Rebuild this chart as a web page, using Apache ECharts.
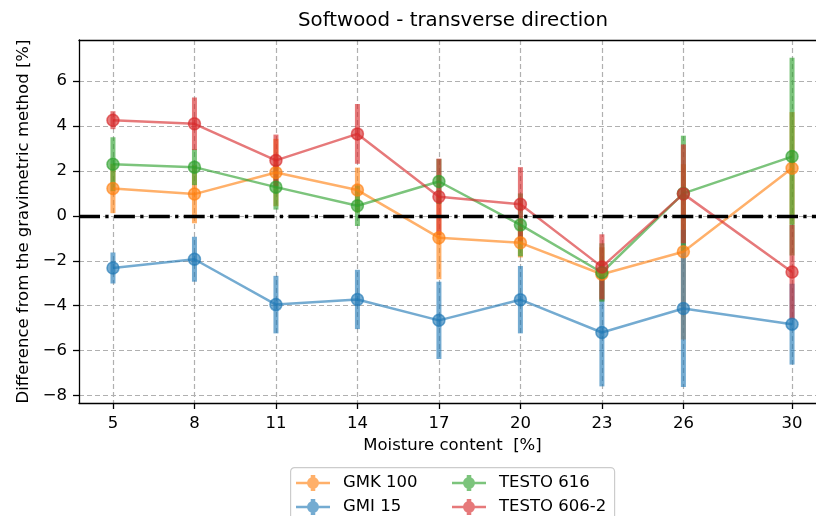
<!DOCTYPE html>
<html><head><meta charset="utf-8">
<script src="https://cdn.jsdelivr.net/npm/echarts@6/dist/echarts.min.js"></script>
<style>html,body{margin:0;padding:0;background:#fff}#c{width:816px;height:516px}</style>
</head><body><div id="c"></div>
<script>
// ---- data ----
const moisture = [5, 8, 11, 14, 17, 20, 23, 26, 30];
const xTicks = [5, 8, 11, 14, 17, 20, 23, 26, 30];
const yTicks = [-8, -6, -4, -2, 0, 2, 4, 6];
const seriesNames = ['GMK 100', 'GMI 15', 'TESTO 616', 'TESTO 606-2'];
const gmk100 = [1.22, 0.97, 1.93, 1.15, -0.97, -1.20, -2.60, -1.60, 2.12];
const gmk100Err = [1.10, 1.30, 1.50, 1.00, 1.85, 0.65, 1.20, 3.90, 2.50];
const gmi15 = [-2.32, -1.93, -3.95, -3.72, -4.65, -3.73, -5.19, -4.12, -4.82];
const gmi15Err = [0.69, 1.00, 1.28, 1.32, 1.72, 1.50, 2.40, 3.50, 1.80];
const testo616 = [2.30, 2.17, 1.28, 0.45, 1.53, -0.40, -2.52, 1.00, 2.64];
const testo616Err = [1.20, 0.80, 1.00, 0.90, 1.00, 1.40, 1.30, 2.57, 4.40];
const testo6062 = [4.26, 4.10, 2.47, 3.65, 0.85, 0.52, -2.27, 0.98, -2.50];
const testo6062Err = [0.40, 1.17, 1.15, 1.33, 1.70, 1.65, 1.45, 2.20, 2.10];

// ---- styling ----
const FONT = 'DejaVu Sans';
const ALPHA = 0.62;
const baseColors = [[255,127,14],[31,119,180],[44,160,44],[214,39,40]];
const rgba = (c, a) => `rgba(${c[0]},${c[1]},${c[2]},${a})`;
const values = [gmk100, gmi15, testo616, testo6062];
const errs = [gmk100Err, gmi15Err, testo616Err, testo6062Err];
const ICON = 'path://M0,6.75 L34,6.75 L34,9.25 L0,9.25 Z M14.75,0 L19.25,0 L19.25,16 L14.75,16 Z M11,8 A6,6 0 1,1 23,8 A6,6 0 1,1 11,8 Z';
const fmt = v => v < 0 ? '\u2212' + Math.abs(v) : String(v);
const X_MIN = 3.75, X_MAX = 31.25, Y_MIN = -8.33, Y_MAX = 7.83;

const series = [{
  type: 'line', data: [], silent: true, z: 1,
  markLine: {
    silent: true, symbol: 'none', animation: false,
    label: {show: false},
    lineStyle: {color: '#000', width: 3.3, type: [21, 5.3, 3.3, 5.3]},
    emphasis: {disabled: true},
    data: [{yAxis: 0}]
  }
}];

seriesNames.forEach((name, i) => {
  const col = rgba(baseColors[i], ALPHA);
  series.push({
    type: 'custom', name: name, silent: true, z: 2,
    data: moisture.map((x, k) => [x, values[i][k] - errs[i][k], values[i][k] + errs[i][k]]),
    renderItem: (params, api) => {
      const x = api.value(0);
      const p1 = api.coord([x, api.value(2)]);
      const p2 = api.coord([x, api.value(1)]);
      const w = 5;
      return {type: 'rect', shape: {x: p1[0] - w / 2, y: p1[1], width: w, height: p2[1] - p1[1]}, style: {fill: col}};
    }
  });
  series.push({
    type: 'line', name: name, silent: true, z: 2,
    data: moisture.map((x, k) => [x, values[i][k]]),
    symbol: 'circle', symbolSize: 12, showSymbol: true,
    lineStyle: {color: col, width: 2.5},
    itemStyle: {color: col, borderColor: col, borderWidth: 1.5},
    emphasis: {disabled: true}
  });
});

const legendText = {fontSize: 16.5, color: '#000', fontFamily: FONT, lineHeight: 20, padding: [0, 0, 0, 8]};
const legendItem = i => ({name: seriesNames[i], icon: ICON, itemStyle: {color: rgba(baseColors[i], ALPHA), borderWidth: 0}});
const gridLine = {show: true, lineStyle: {color: '#b0b0b0', width: 1.2, type: [5, 3]}};
const legendBase = {orient: 'vertical', top: 473, height: 80, itemWidth: 34, itemHeight: 20, itemGap: 4, padding: 0, selectedMode: false, textStyle: legendText};

const option = {
  animation: false,
  backgroundColor: '#fff',
  textStyle: {fontFamily: FONT},
  title: {
    text: 'Softwood - transverse direction', left: 453, top: 11, textAlign: 'center', padding: 0,
    textStyle: {fontSize: 19.8, fontWeight: 'normal', color: '#000', fontFamily: FONT}
  },
  grid: {left: 79, top: 40, width: 747, height: 363, show: false, containLabel: false, outerBoundsMode: 'none'},
  xAxis: [{
    type: 'value', min: X_MIN, max: X_MAX,
    name: 'Moisture content  [%]', nameLocation: 'middle', nameGap: 34,
    nameTextStyle: {fontSize: 16.5, color: '#000', fontFamily: FONT},
    axisLine: {show: true, onZero: false, lineStyle: {color: '#000', width: 1.3}},
    axisTick: {show: true, length: 6, customValues: xTicks, lineStyle: {color: '#000', width: 1.3}},
    axisLabel: {customValues: xTicks, margin: 12, fontSize: 16.5, color: '#000', fontFamily: FONT, formatter: fmt},
    splitLine: gridLine
  }, {
    type: 'value', min: X_MIN, max: X_MAX, position: 'top',
    axisLine: {show: true, onZero: false, lineStyle: {color: '#000', width: 1.3}},
    axisTick: {show: false}, axisLabel: {show: false}, splitLine: {show: false}
  }],
  yAxis: {
    type: 'value', min: Y_MIN, max: Y_MAX,
    name: 'Difference from the gravimetric method [%]', nameLocation: 'middle', nameGap: 32, nameRotate: 90,
    nameTextStyle: {fontSize: 16.5, color: '#000', fontFamily: FONT},
    axisLine: {show: true, onZero: false, lineStyle: {color: '#000', width: 1.3}},
    axisTick: {show: true, length: 6, customValues: yTicks, lineStyle: {color: '#000', width: 1.3}},
    axisLabel: {customValues: yTicks, margin: 12, fontSize: 16.5, color: '#000', fontFamily: FONT, formatter: fmt},
    splitLine: gridLine
  },
  legend: [
    Object.assign({data: [legendItem(0), legendItem(1)], left: 296}, legendBase),
    Object.assign({data: [legendItem(2), legendItem(3)], left: 452}, legendBase)
  ],
  graphic: [{type: 'rect', left: 290, top: 467, z: -1, shape: {width: 324, height: 60, r: 4}, style: {fill: '#fff', stroke: '#cccccc', lineWidth: 1.2}}],
  series: series
};
const chart = echarts.init(document.getElementById('c'), null, {renderer: 'canvas'});
chart.setOption(option);
</script>
</body></html>
